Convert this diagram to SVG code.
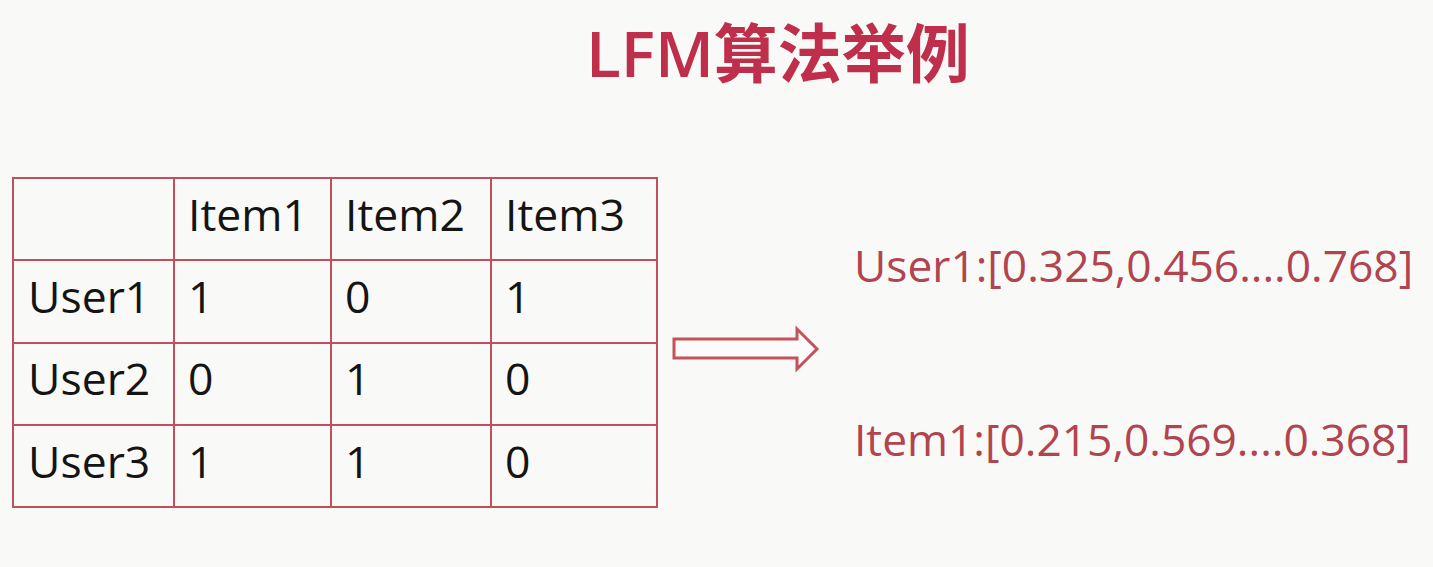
<svg xmlns="http://www.w3.org/2000/svg" width="1433" height="567" viewBox="0 0 1433 567">
<style>
.cell{font-family:'Open Sans','Noto Sans',sans-serif;font-size:44.5px;fill:#141414}
.vec{font-family:'Open Sans','Noto Sans',sans-serif;font-size:44.3px;fill:#b2444f}
.grid{stroke:#c0505e;stroke-width:2;fill:none}
</style>
<rect width="1433" height="567" fill="#f9faf7"/>
<g id="title">
<text x="586" y="77" font-family="'Open Sans','Noto Sans CJK SC',sans-serif" font-weight="600" font-size="64" fill="#bf2e4a">LFM算法举例</text>
</g>
<g id="table">
<rect class="grid" x="13" y="178" width="644" height="329"/>
<line class="grid" x1="174" y1="178" x2="174" y2="507"/>
<line class="grid" x1="331" y1="178" x2="331" y2="507"/>
<line class="grid" x1="491" y1="178" x2="491" y2="507"/>
<line class="grid" x1="13" y1="260" x2="657" y2="260"/>
<line class="grid" x1="13" y1="343" x2="657" y2="343"/>
<line class="grid" x1="13" y1="425" x2="657" y2="425"/>
<text class="cell" x="188" y="231">Item1</text>
<text class="cell" x="345" y="231">Item2</text>
<text class="cell" x="505" y="231">Item3</text>
<text class="cell" x="28" y="313">User1</text>
<text class="cell" x="28" y="395">User2</text>
<text class="cell" x="28" y="478">User3</text>
<text class="cell" x="188" y="313">1</text>
<text class="cell" x="345" y="313">0</text>
<text class="cell" x="505" y="313">1</text>
<text class="cell" x="188" y="395">0</text>
<text class="cell" x="345" y="395">1</text>
<text class="cell" x="505" y="395">0</text>
<text class="cell" x="188" y="478">1</text>
<text class="cell" x="345" y="478">1</text>
<text class="cell" x="505" y="478">0</text>
</g>
<g id="connectors">
<path d="M674,339 L797,339 L797,329 L817,349 L797,369 L797,358 L674,358 Z" fill="#fbfbf9" stroke="#c4525c" stroke-width="3" stroke-linejoin="miter"/>
</g>
<g id="user-vector">
<text class="vec" x="854" y="282">User1:[0.325,0.456....0.768]</text>
</g>
<g id="item-vector">
<text class="vec" x="854" y="456">Item1:[0.215,0.569....0.368]</text>
</g>
</svg>
